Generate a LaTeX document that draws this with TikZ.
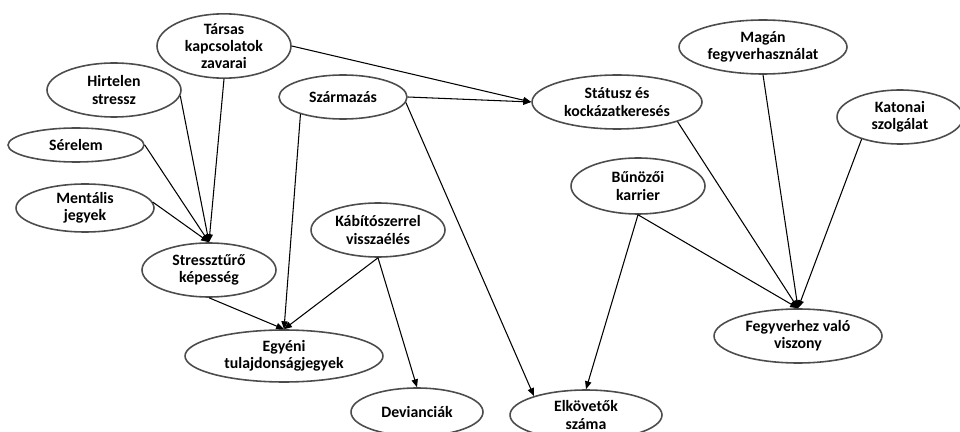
\documentclass[tikz,border=0pt]{standalone}
\usepackage{fontspec}
\setmainfont{Carlito}
\usetikzlibrary{shapes.geometric,arrows.meta}
\tikzset{every picture/.style={line width=0.6pt}}
\begin{document}
\begin{tikzpicture}[x=0.02cm,y=-0.02cm,
  factor/.style={ellipse,draw=black!70,line width=0.9pt,inner sep=0pt,align=center,
    font=\fontsize{9}{9.8}\selectfont\bfseries},
  link/.style={-{Triangle[length=4.5pt,width=3.6pt]}}]
\clip (0,0) rectangle (960,432);
\node[factor,minimum width=2.68cm,minimum height=1.16cm] (tarsas) at (224,46) {Társas\\kapcsolatok\\zavarai};
\node[factor,minimum width=2.68cm,minimum height=1.08cm] (hirt) at (114,90) {Hirtelen\\stressz};
\node[factor,minimum width=2.72cm,minimum height=0.68cm] (serelem) at (76,145) {Sérelem};
\node[factor,minimum width=2.76cm,minimum height=0.96cm] (ment) at (85,208) {Mentális\\jegyek};
\node[factor,minimum width=2.56cm,minimum height=0.88cm] (szarm) at (343,97) {Származás};
\node[factor,minimum width=2.68cm,minimum height=1.08cm] (stress) at (209,270) {Stressztűrő\\képesség};
\node[factor,minimum width=2.68cm,minimum height=1.08cm] (kabito) at (378,230) {Kábítószerrel\\visszaélés};
\node[factor,minimum width=3.96cm,minimum height=1.04cm] (egyeni) at (284,356) {Egyéni\\tulajdonságjegyek};
\node[factor,minimum width=2.64cm,minimum height=0.96cm] (devi) at (417,412) {Devianciák};
\node[factor,minimum width=3.04cm,minimum height=1.0cm] (elkov) at (586,415) {Elkövetők\\száma};
\node[factor,minimum width=3.4cm,minimum height=1.08cm] (statusz) at (617,102) {Státusz és\\kockázatkeresés};
\node[factor,minimum width=3.36cm,minimum height=1.08cm] (magan) at (763,47) {Magán\\fegyverhasználat};
\node[factor,minimum width=2.52cm,minimum height=1.08cm] (katonai) at (900,117) {Katonai\\szolgálat};
\node[factor,minimum width=2.68cm,minimum height=1.12cm] (bunozoi) at (638,186) {Bűnözői\\karrier};
\node[factor,minimum width=3.36cm,minimum height=1.08cm] (fegyv) at (798,336) {Fegyverhez való\\viszony};

\draw[link] (hirt.-5) -- (stress.north);
\draw[link] (tarsas.south) -- (stress.north);
\draw[link] (serelem.east) -- (stress.north);
\draw[link] (ment.5) -- (stress.north);
\draw[link] (tarsas.east) -- (statusz.west);
\draw[link] (szarm.east) -- (statusz.west);
\draw[link] (szarm.-158) -- (egyeni.north);
\draw[link] (szarm.-5) -- (elkov.160);
\draw[link] (stress.south) -- (egyeni.north);
\draw[link] (kabito.south) -- (egyeni.north);
\draw[link] (kabito.south) -- (devi.north);
\draw[link] (statusz.-18) -- (fegyv.north);
\draw[link] (magan.south) -- (fegyv.north);
\draw[link] (katonai.-150) -- (fegyv.north);
\draw[link] (bunozoi.south) -- (fegyv.north);
\draw[link] (bunozoi.south) -- (elkov.north);
\end{tikzpicture}
\end{document}
